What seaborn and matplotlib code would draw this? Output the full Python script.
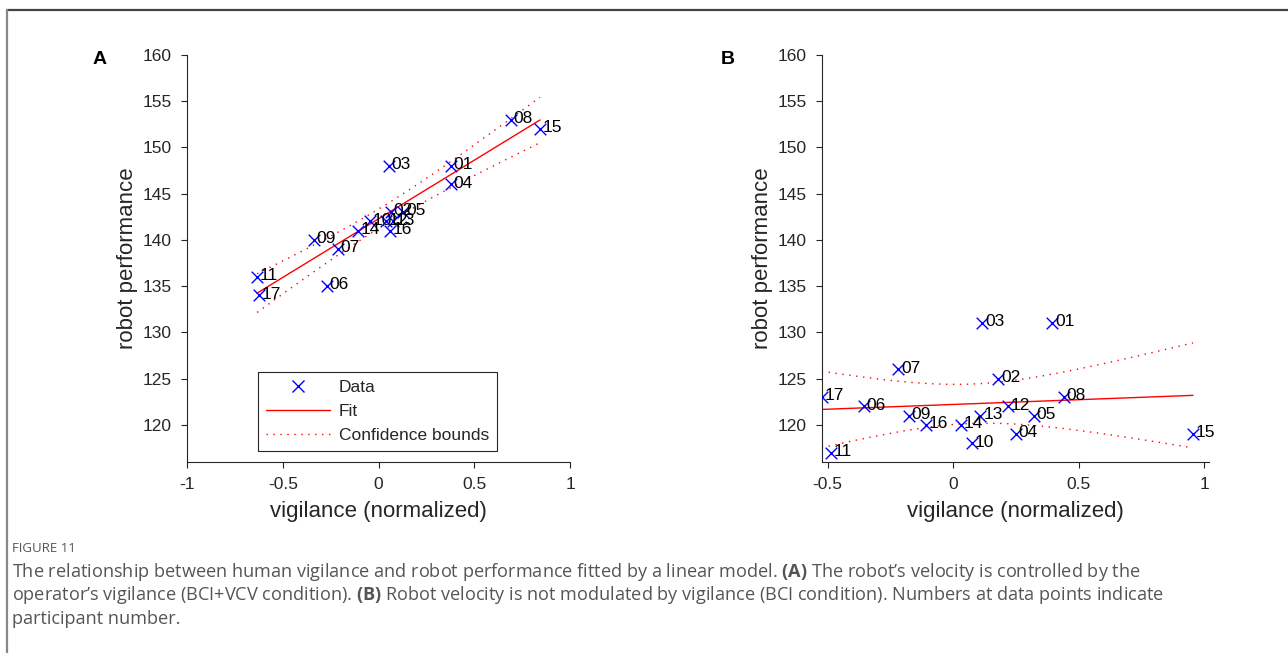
import numpy as np
import pandas as pd
import matplotlib
matplotlib.use("Agg")
import matplotlib.pyplot as plt
from matplotlib.lines import Line2D
import seaborn as sns

# ---------------- data ----------------
participants = ["01", "02", "03", "04", "05", "06", "07", "08", "09",
                "10", "11", "12", "13", "14", "15", "16", "17"]

vig_a = [0.376, 0.065, 0.054, 0.376, 0.13, -0.27, -0.212, 0.69, -0.338,
         -0.045, -0.634, 0.04, 0.075, -0.107, 0.843, 0.06, -0.624]
perf_a = [148, 143, 148, 146, 143, 135, 139, 153, 140,
          142, 136, 142, 142, 141, 152, 141, 134]

vig_b = [0.395, 0.18, 0.116, 0.249, 0.322, -0.355, -0.218, 0.441, -0.176,
         0.076, -0.487, 0.218, 0.109, 0.03, 0.956, -0.109, -0.523]
perf_b = [131, 125, 131, 119, 121, 122, 126, 123, 121,
          118, 117, 122, 121, 120, 119, 120, 123]

xticks_a = [-1, -0.5, 0, 0.5, 1]
xticks_b = [-0.5, 0, 0.5, 1]
yticks = [120, 125, 130, 135, 140, 145, 150, 155, 160]

caption_title = "FIGURE 11"
caption_lines = [
    "The relationship between human vigilance and robot performance fitted by a linear model. $\\bf{(A)}$ The robot\u2019s velocity is controlled by the",
    "operator\u2019s vigilance (BCI+VCV condition). $\\bf{(B)}$ Robot velocity is not modulated by vigilance (BCI condition). Numbers at data points indicate",
    "participant number.",
]

T_CRIT = 2.131  # t(0.975; 15) for pointwise confidence bounds on the fit

sns.set_style("ticks")
plt.rcParams["font.family"] = ["Liberation Sans", "DejaVu Sans"]
plt.rcParams["mathtext.fontset"] = "custom"
plt.rcParams["mathtext.rm"] = "Open Sans"
plt.rcParams["mathtext.bf"] = "Open Sans:bold"
plt.rcParams["mathtext.default"] = "regular"

fig = plt.figure(figsize=(12.88, 6.53), dpi=100)

ax_a = fig.add_axes([0.1452, 0.2925, 0.2974, 0.6233])
ax_b = fig.add_axes([0.6380, 0.2925, 0.3007, 0.6233])

tick_col = "#262626"


def fit_model(x, y):
    x = np.asarray(x, float)
    y = np.asarray(y, float)
    n = len(x)
    b1, b0 = np.polyfit(x, y, 1)
    resid = y - (b0 + b1 * x)
    s = np.sqrt(np.sum(resid ** 2) / (n - 2))
    xbar = x.mean()
    sxx = np.sum((x - xbar) ** 2)
    xs = np.linspace(x.min(), x.max(), 100)
    yf = b0 + b1 * xs
    se = s * np.sqrt(1.0 / n + (xs - xbar) ** 2 / sxx)
    d = T_CRIT * se
    return xs, yf, yf - d, yf + d


def draw_panel(ax, vig, perf, xlim, xticks, legend):
    df = pd.DataFrame({"vig": vig, "perf": perf, "id": participants})
    xs, yf, lo, hi = fit_model(vig, perf)
    fit = pd.DataFrame({"x": xs, "fit": yf, "lo": lo, "hi": hi})

    sns.scatterplot(data=df, x="vig", y="perf", marker="x", color="#0000ff",
                    s=70, linewidth=1.0, ax=ax, zorder=3)
    sns.lineplot(data=fit, x="x", y="fit", color="#ff0000", linewidth=1.0,
                 ax=ax, zorder=2)
    sns.lineplot(data=fit, x="x", y="lo", color="#ff0000", linewidth=1.0,
                 linestyle=(0, (1, 4)), ax=ax, zorder=2)
    sns.lineplot(data=fit, x="x", y="hi", color="#ff0000", linewidth=1.0,
                 linestyle=(0, (1, 4)), ax=ax, zorder=2)

    for _, r in df.iterrows():
        ax.annotate(r["id"], (r["vig"], r["perf"]), xytext=(2, 1),
                    textcoords="offset points", fontsize=12.5, va="center",
                    ha="left", color="black", zorder=4)

    ax.set_xlim(*xlim)
    ax.set_ylim(116, 160)
    ax.set_xticks(xticks)
    ax.set_xticklabels([f"{t:g}" for t in xticks])
    ax.set_yticks(yticks)
    ax.set_xlabel("vigilance (normalized)", fontsize=16, color=tick_col, labelpad=6)
    ax.set_ylabel("robot performance", fontsize=16, color=tick_col, labelpad=3)
    ax.tick_params(axis="both", direction="out", length=4, width=0.8,
                   labelsize=12.5, colors=tick_col, pad=7)
    sns.despine(ax=ax)
    for sp in ("left", "bottom"):
        ax.spines[sp].set_color(tick_col)
        ax.spines[sp].set_linewidth(0.8)

    if legend:
        handles = [
            Line2D([], [], marker="x", color="#0000ff", linestyle="none",
                   markersize=8, markeredgewidth=1.0),
            Line2D([], [], color="#ff0000", linewidth=1.0),
            Line2D([], [], color="#ff0000", linewidth=1.0, linestyle=(0, (1, 4))),
        ]
        leg = ax.legend(handles, ["Data", "Fit", "Confidence bounds"],
                        loc="lower left", bbox_to_anchor=(0.185, 0.028),
                        fontsize=12.5, frameon=True, fancybox=False,
                        edgecolor="#262626", handlelength=3.7,
                        borderpad=0.45, labelspacing=0.5, handletextpad=0.5,
                        borderaxespad=0)
        leg.get_frame().set_linewidth(0.8)
        leg.get_frame().set_alpha(1)


draw_panel(ax_a, vig_a, perf_a, (-1, 1), xticks_a, True)
draw_panel(ax_b, vig_b, perf_b, (-0.523, 1.02), xticks_b, False)

# panel letters
fig.text(100 / 1288, 1 - 59 / 653, "A", fontsize=14, fontweight="bold",
         ha="center", va="center", color="black")
fig.text(728 / 1288, 1 - 59 / 653, "B", fontsize=14, fontweight="bold",
         ha="center", va="center", color="black")

# outer frame
fig.add_artist(Line2D([7 / 1288, 1.0], [1 - 10 / 653, 1 - 10 / 653],
                      transform=fig.transFigure, color="#444444", linewidth=1.6))
fig.add_artist(Line2D([7 / 1288, 7 / 1288], [0.0, 1 - 10 / 653],
                      transform=fig.transFigure, color="#888888", linewidth=1.6))

cap_font = ["Open Sans", "DejaVu Sans"]
fig.text(12 / 1288, 1 - 549 / 653, caption_title, fontsize=9.5,
         color="#555555", family=cap_font, va="center", ha="left")
for i, line in enumerate(caption_lines):
    fig.text(12 / 1288, 1 - (572 + 23.5 * i) / 653, line, fontsize=13.1,
             color="#555555", family=cap_font, va="center", ha="left")

fig.savefig("out.png", dpi=100)
